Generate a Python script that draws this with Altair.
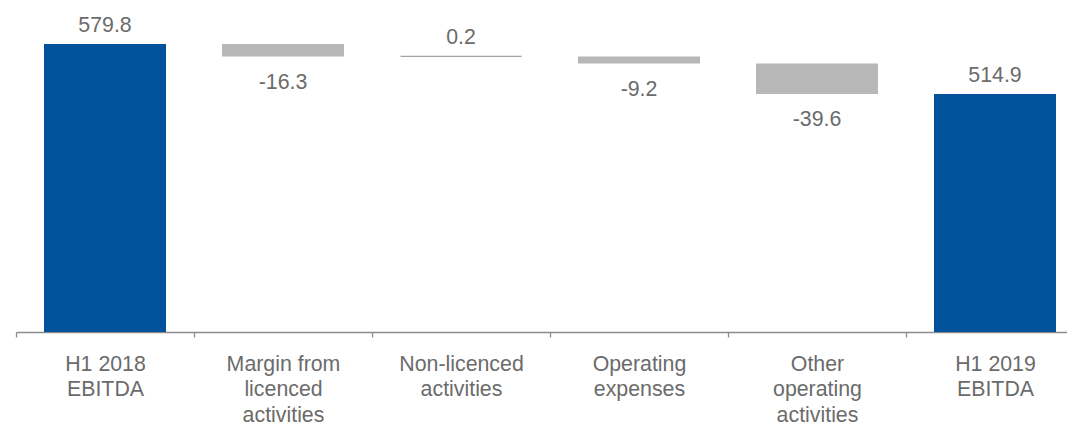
import altair as alt
import pandas as pd

categories = [
    "H1 2018|EBITDA",
    "Margin from|licenced|activities",
    "Non-licenced|activities",
    "Operating|expenses",
    "Other|operating|activities",
    "H1 2019|EBITDA",
]
values = [579.8, -16.3, 0.2, -9.2, -39.6, 514.9]
kinds = ["total", "delta", "delta", "delta", "delta", "total"]
labels = ["579.8", "-16.3", "0.2", "-9.2", "-39.6", "514.9"]

rows = []
running = 0.0
for c, v, k, l in zip(categories, values, kinds, labels):
    if k == "total":
        start, end = 0.0, v
        running = v
    else:
        start, end = running, running + v
        running = end
    rows.append(dict(cat=c, value=v, kind=k, label=l, start=start, end=end,
                     top=max(start, end), bottom=min(start, end)))
df = pd.DataFrame(rows)

FONT = "Liberation Sans"
TXT = "#6b6b6b"
FS = 21.33

x = alt.X(
    "cat:N",
    sort=categories,
    scale=alt.Scale(range=[0, 1068], paddingInner=0, paddingOuter=0),
    axis=alt.Axis(
        title=None,
        labelExpr="split(datum.label, '|')",
        labelAngle=0,
        labelFont=FONT,
        labelFontSize=FS,
        labelColor=TXT,
        labelLineHeight=25.5,
        labelLimit=0,
        labelPadding=16,
        tickBand="extent",
        tickSize=5,
        tickWidth=1.3,
        tickColor="#8c8c8c",
        domainColor="#8c8c8c",
        domainWidth=1.3,
        grid=False,
    ),
)
yscale = alt.Scale(domain=[206, 626.6], clamp=True, nice=False, zero=False)

base = alt.Chart(df)

bars = base.mark_bar(size=122).encode(
    x=x,
    y=alt.Y("start:Q", scale=yscale, axis=None),
    y2="end:Q",
    color=alt.Color("kind:N", scale=alt.Scale(domain=["total", "delta"], range=["#00529B", "#B7B7B7"]), legend=None),
).transform_filter("abs(datum.value) >= 1")

tiny = base.mark_tick(size=121, thickness=1.2, color="#7a7a7a").encode(
    x=x,
    y=alt.Y("end:Q", scale=yscale, axis=None),
).transform_filter("abs(datum.value) < 1")

above = base.mark_text(baseline="alphabetic", dy=-12, fontSize=FS, font=FONT, color=TXT).encode(
    x=x,
    y=alt.Y("top:Q", scale=yscale, axis=None),
    text="label:N",
).transform_filter("datum.value >= 0")

below = base.mark_text(baseline="alphabetic", dy=32, fontSize=FS, font=FONT, color=TXT).encode(
    x=x,
    y=alt.Y("bottom:Q", scale=yscale, axis=None),
    text="label:N",
).transform_filter("datum.value < 0")

chart = alt.layer(bars, tiny, above, below).properties(
    width=1051,
    height=324,
    autosize=alt.AutoSizeParams(type="none"),
    padding={"left": 8, "top": 0, "right": 0, "bottom": 93},
).configure_view(stroke=None)

chart.save("out.html", embed_options={"renderer": "svg", "actions": False})
